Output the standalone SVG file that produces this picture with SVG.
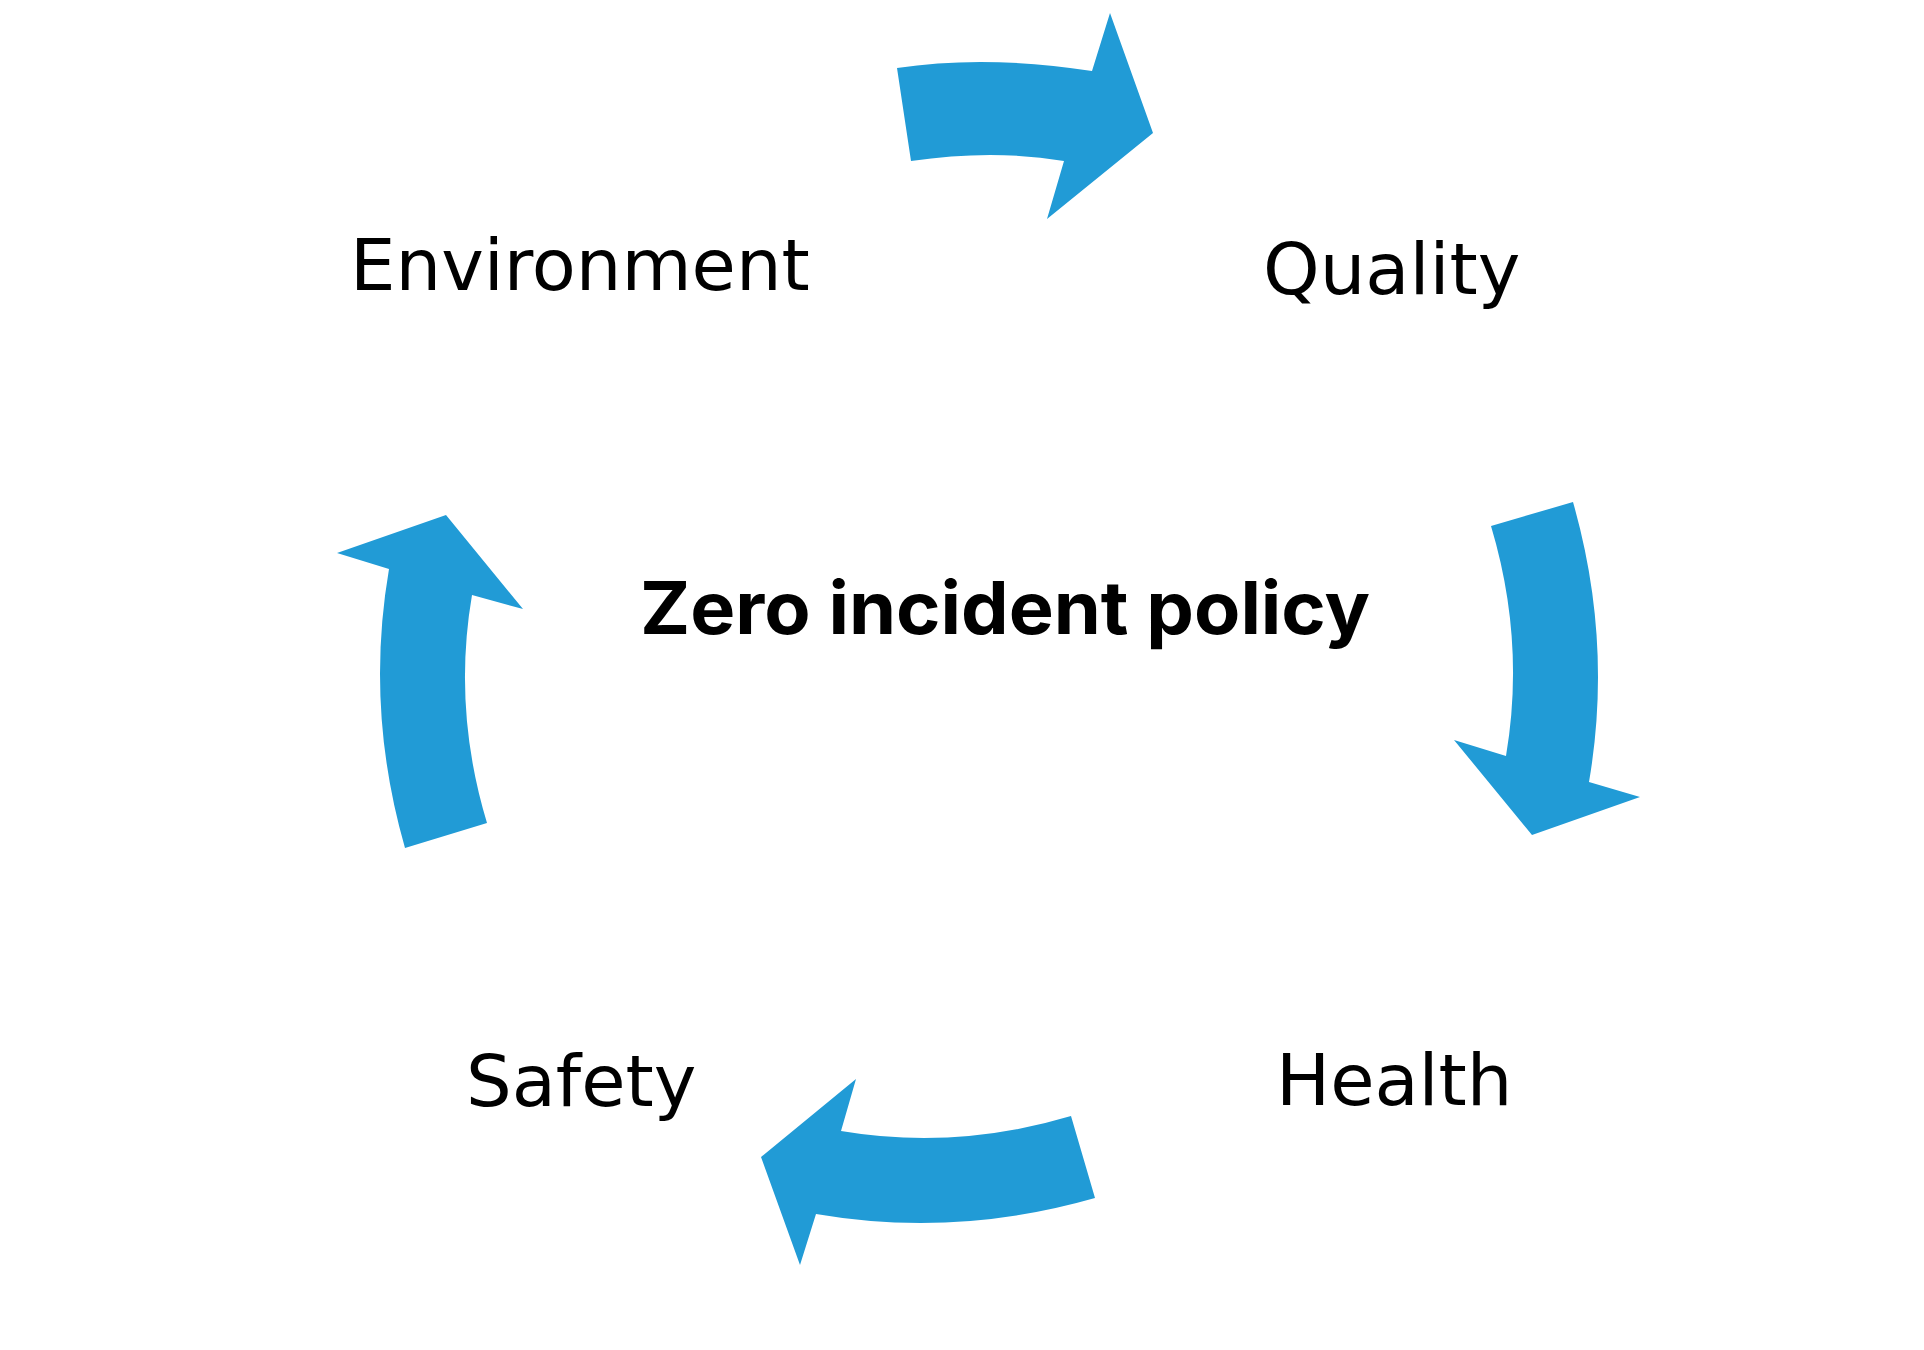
<svg xmlns="http://www.w3.org/2000/svg" width="1924" height="1350" viewBox="0 0 1924 1350">
<style>
.arrow{fill:#219BD6;stroke:none}
.lbl{font-family:"DejaVu Sans","Liberation Sans",sans-serif;font-size:72px;fill:#000}
.title{font-family:Inter,Roboto,"Liberation Sans",sans-serif;font-size:73px;font-weight:bold;fill:#000}
</style>
<rect width="1924" height="1350" fill="#fff"/>
<g id="connectors">
<path class="arrow" d="M897,68 Q985.5,54.5 1092,71 L1110,13 L1153,133 L1047,219 L1064,161 Q992.5,149 911,161 Z"/>
<path class="arrow" d="M1573,502 Q1613,642 1589,782 L1640,797 L1532,835 L1454,740 L1506,756 Q1525.5,641 1491,526 Z"/>
<path class="arrow" d="M1095,1198 Q955.5,1238 816,1214 L800,1265 L761,1157 L856,1079 L841,1131 Q956,1150.5 1071,1116 Z"/>
<path class="arrow" d="M405,848 Q365,708.5 389,569 L337,553 L446,515 L523,609 L472,595 Q452.5,709 487,823 Z"/>
</g>
<g id="node-center"><text class="title" x="640" y="634" textLength="730" lengthAdjust="spacingAndGlyphs">Zero incident policy</text></g>
<g id="node-environment"><text class="lbl" x="350" y="290">Environment</text></g>
<g id="node-quality"><text class="lbl" x="1263" y="294">Quality</text></g>
<g id="node-health"><text class="lbl" x="1276" y="1105">Health</text></g>
<g id="node-safety"><text class="lbl" x="466" y="1106">Safety</text></g>
</svg>
